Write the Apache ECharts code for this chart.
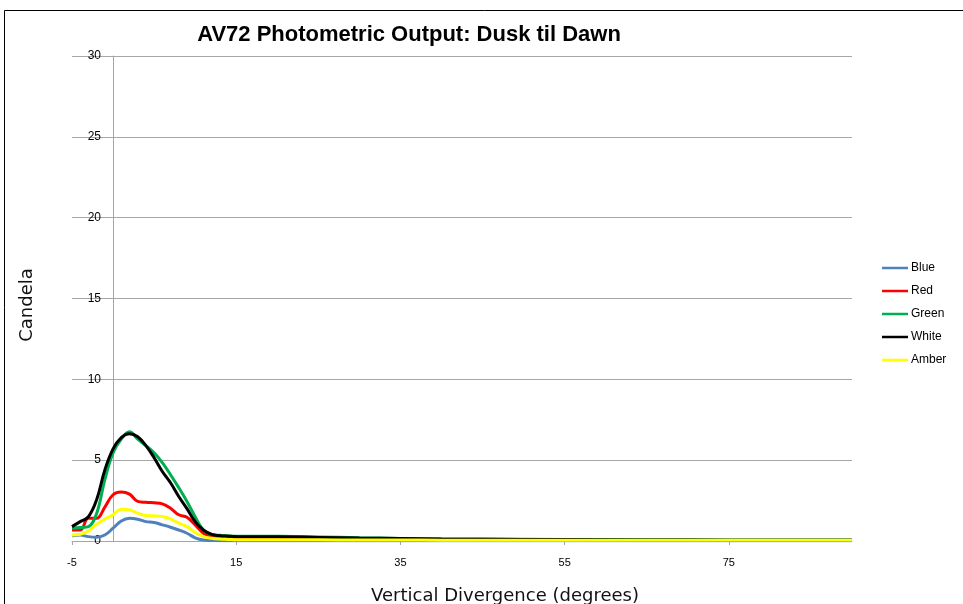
<!DOCTYPE html>
<html>
<head>
<meta charset="utf-8">
<script src="https://cdn.jsdelivr.net/npm/echarts@6/dist/echarts.min.js"></script>
<style>
html,body{margin:0;padding:0;background:#fff;}
#chart{width:963px;height:604px;}
</style>
</head>
<body>
<div id="chart"></div>
<script>
var degrees = [-5,-4,-3,-2,-1,0,1,2,3,4,5,6,7,8,9,10,11,12,13,14,15,20,25,30,35,40,50,60,70,80,90];
var blue  = [0.33,0.37,0.27,0.23,0.37,0.79,1.24,1.41,1.35,1.20,1.14,1.00,0.85,0.68,0.48,0.20,0.06,0.03,0.02,0.02,0.02,0.02,0.02,0.02,0.02,0.02,0.02,0.02,0.02,0.02,0.02];
var red   = [0.68,0.68,1.40,1.40,2.10,2.86,3.03,2.90,2.45,2.39,2.36,2.30,2.03,1.62,1.47,1.00,0.48,0.27,0.20,0.17,0.15,0.13,0.12,0.11,0.10,0.09,0.08,0.07,0.06,0.05,0.05];
var green = [0.79,0.83,0.89,1.70,3.80,5.45,6.30,6.76,6.30,5.90,5.45,4.85,4.10,3.30,2.45,1.50,0.68,0.41,0.35,0.32,0.30,0.30,0.25,0.20,0.16,0.13,0.11,0.09,0.07,0.06,0.06];
var white = [0.89,1.20,1.50,2.55,4.40,5.70,6.40,6.64,6.45,5.90,5.15,4.30,3.60,2.75,2.00,1.20,0.68,0.41,0.33,0.30,0.28,0.26,0.22,0.18,0.15,0.12,0.10,0.08,0.06,0.05,0.05];
var amber = [0.37,0.41,0.62,1.04,1.35,1.62,1.97,1.93,1.72,1.58,1.56,1.51,1.37,1.10,0.89,0.52,0.27,0.17,0.12,0.10,0.08,0.07,0.07,0.06,0.06,0.05,0.05,0.05,0.04,0.04,0.04];

var seriesNames = ['Blue','Red','Green','White','Amber'];
var seriesValues = [blue, red, green, white, amber];
var seriesColors = ['#4F81BD','#FF0000','#00B050','#000000','#FFFF00'];

function pairs(vals){ return degrees.map(function(d,i){ return [d, vals[i]]; }); }

var chart = echarts.init(document.getElementById('chart'), null, {renderer:'canvas'});
chart.setOption({
  animation:false,
  backgroundColor:'#ffffff',
  title:{
    text:'AV72 Photometric Output: Dusk til Dawn',
    left:404, top:19, textAlign:'center',
    textStyle:{fontFamily:'Liberation Sans', fontWeight:'bold', fontSize:22, color:'#000'}
  },
  graphic:[{type:'rect', shape:{x:4.5,y:10.5,width:1200,height:1200}, style:{fill:'none', stroke:'#000', lineWidth:1}, silent:true}],
  legend:{
    orient:'vertical', left:877, top:257, itemGap:11, itemWidth:26, itemHeight:12,
    icon:'path://M0,5 L26,5 L26,7.5 L0,7.5 Z',
    data:seriesNames,
    textStyle:{fontFamily:'Liberation Sans', fontSize:12, color:'#000', padding:[0,0,0,-2]}
  },
  grid:{left:72, right:111, top:56, bottom:63, containLabel:false, outerBoundsMode:'none'},
  xAxis:{
    type:'value', min:-5, max:90, interval:20,
    name:'Vertical Divergence (degrees)', nameLocation:'middle', nameGap:46,
    nameTextStyle:{fontFamily:'DejaVu Sans', fontWeight:'normal', fontSize:18, color:'#111', padding:[0,0,0,86]},
    axisLine:{onZero:false, lineStyle:{color:'#a6a6a6', width:1}},
    axisTick:{show:true, length:4, lineStyle:{color:'#a6a6a6'}},
    axisLabel:{fontFamily:'Liberation Sans', fontSize:11, color:'#000', margin:16, showMaxLabel:false},
    splitLine:{show:false}
  },
  yAxis:{
    type:'value', min:0, max:30, interval:5,
    name:'Candela', nameLocation:'middle', nameGap:36, nameRotate:90,
    nameTextStyle:{fontFamily:'DejaVu Sans', fontWeight:'normal', fontSize:18, color:'#111', padding:[0,13,0,0]},
    axisLine:{show:true, onZero:true, lineStyle:{color:'#a6a6a6', width:1}},
    axisTick:{show:false},
    axisLabel:{fontFamily:'Liberation Sans', fontSize:12, color:'#000', margin:-29},
    splitLine:{show:true, lineStyle:{color:'#a6a6a6', width:1}}
  },
  series: seriesNames.map(function(n,i){
    return {
      name:n, type:'line', data:pairs(seriesValues[i]), smooth:0.4,
      showSymbol:false, symbol:'none',
      lineStyle:{color:seriesColors[i], width:3},
      itemStyle:{color:seriesColors[i]}
    };
  })
});
</script>
</body>
</html>
